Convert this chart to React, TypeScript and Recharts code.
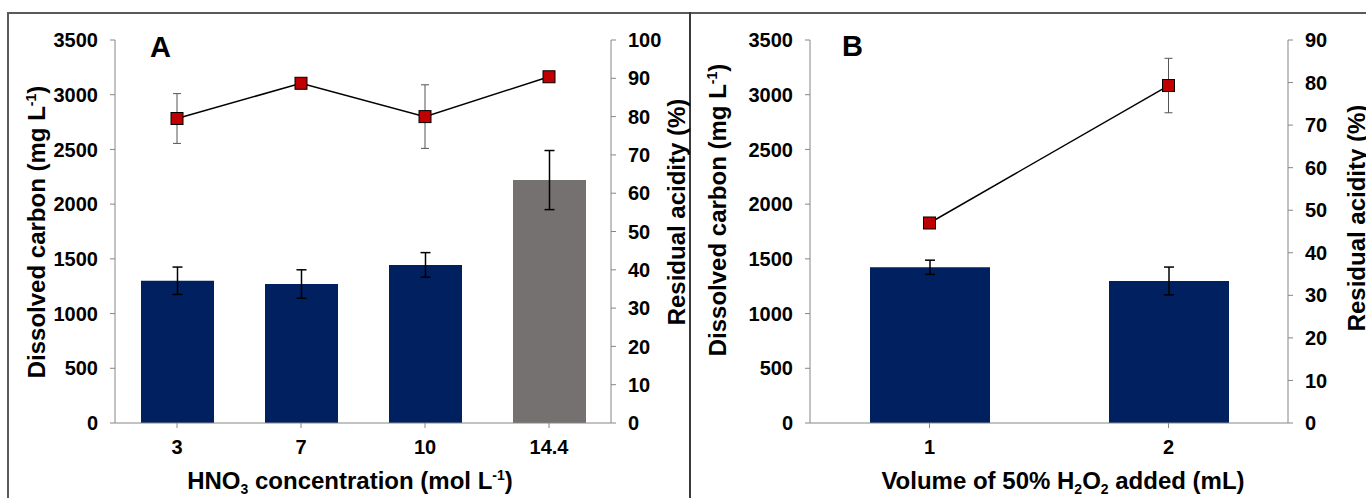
import { ComposedChart, Bar, Line, XAxis, YAxis, ErrorBar, Cell } from 'recharts';

// panel A: HNO3 concentration series
const hno3Labels = ['3', '7', '10', '14.4'];
const carbonA = [1300, 1270, 1445, 2220];
const carbonErrA = [125, 130, 112, 270];
const acidityA = [79.5, 88.7, 80, 90.4];
const acidityErrA = [6.5, 1, 8.3, 0.5];
const barColorsA = ['#002060', '#002060', '#002060', '#767171'];

// panel B: H2O2 volume series
const h2o2Labels = ['1', '2'];
const carbonB = [1423, 1298];
const carbonErrB = [65, 127];
const acidityB = [47, 79.3];
const acidityErrB = [0.3, 6.4];

const carbonTicks = [0, 500, 1000, 1500, 2000, 2500, 3000, 3500];
const acidityTicksA = [0, 10, 20, 30, 40, 50, 60, 70, 80, 90, 100];
const acidityTicksB = [0, 10, 20, 30, 40, 50, 60, 70, 80, 90];

const rowsA = hno3Labels.map((c, i) => ({
  cat: c,
  carbon: carbonA[i],
  carbonErr: carbonErrA[i],
  acidity: acidityA[i],
  acidityErr: acidityErrA[i],
}));

const rowsB = h2o2Labels.map((c, i) => ({
  cat: c,
  carbon: carbonB[i],
  carbonErr: carbonErrB[i],
  acidity: acidityB[i],
  acidityErr: acidityErrB[i],
}));

const FONT = 'Liberation Sans, Arial, sans-serif';
const AXIS = '#868686';
const tickStyle = { fill: '#000', fontSize: 20, fontWeight: 'bold', fontFamily: FONT };

const Square = (props: any) => {
  const { cx, cy, index } = props;
  if (cx == null || cy == null) return <g key={index} />;
  return (
    <rect key={index} x={cx - 6} y={cy - 6} width={12} height={12} fill="#C00000" stroke="#000" strokeWidth={1} />
  );
};

const Panel = ({ data, width, leftW, rightW, barSize, acTicks, acMax, colors }: any) => (
  <ComposedChart width={width} height={498} data={data} margin={{ top: 40, right: 0, bottom: 0, left: 0 }}>
    <XAxis
      dataKey="cat"
      height={75}
      stroke={AXIS}
      tickSize={5}
      tickMargin={12}
      tick={tickStyle}
    />
    <YAxis
      yAxisId="left"
      domain={[0, 3500]}
      ticks={carbonTicks}
      width={leftW}
      stroke={AXIS}
      tickSize={5}
      tickMargin={12}
      tick={tickStyle}
      interval={0}
    />
    <YAxis
      yAxisId="right"
      orientation="right"
      domain={[0, acMax]}
      ticks={acTicks}
      width={rightW}
      stroke={AXIS}
      tickSize={5}
      tickMargin={12}
      tick={tickStyle}
      interval={0}
    />
    <Bar yAxisId="left" dataKey="carbon" barSize={barSize} isAnimationActive={false}>
      {data.map((_: any, i: number) => (
        <Cell key={i} fill={colors ? colors[i] : '#002060'} />
      ))}
      <ErrorBar dataKey="carbonErr" width={5} stroke="#000" strokeWidth={1.5} direction="y" />
    </Bar>
    <Line
      yAxisId="right"
      dataKey="acidity"
      stroke="#000"
      strokeWidth={1.5}
      dot={Square}
      activeDot={false}
      isAnimationActive={false}
    >
      <ErrorBar dataKey="acidityErr" width={4} stroke="#555" strokeWidth={1} direction="y" />
    </Line>
  </ComposedChart>
);

const VTitle = ({ x, y, children }: any) => (
  <text transform={`translate(${x},${y}) rotate(-90)`} y={9} textAnchor="middle" fontSize={24} fontWeight="bold" fontFamily={FONT} fill="#000">
    {children}
  </text>
);

export default function App() {
  return (
    <div style={{ position: 'absolute', left: 0, top: 0, width: 1366, height: 498, background: '#fff', overflow: 'hidden' }}>
      <div style={{ position: 'absolute', left: 7, top: 12, width: 1400, height: 520, border: '2.5px solid #5a5a5a' }} />
      <div style={{ position: 'absolute', left: 689, top: 12, width: 2, height: 500, background: '#3a3a3a' }} />
      <div style={{ position: 'absolute', left: 0, top: 0 }}>
        <Panel data={rowsA} width={690} leftW={115} rightW={79} barSize={73} acTicks={acidityTicksA} acMax={100} colors={barColorsA} />
      </div>
      <div style={{ position: 'absolute', left: 690, top: 0 }}>
        <Panel data={rowsB} width={676} leftW={120} rightW={78} barSize={120} acTicks={acidityTicksB} acMax={90} />
      </div>
      <svg width={1366} height={498} style={{ position: 'absolute', left: 0, top: 0, pointerEvents: 'none' }}>
        <text x={150} y={57} fontSize={29} fontWeight="bold" fontFamily={FONT}>A</text>
        <text x={842} y={56} fontSize={29} fontWeight="bold" fontFamily={FONT}>B</text>

        <VTitle x={36} y={232}>
          Dissolved carbon (mg L<tspan dy={-9} fontSize={14}>-1</tspan><tspan dy={9}>)</tspan>
        </VTitle>
        <VTitle x={676} y={212}>Residual acidity (%)</VTitle>
        <VTitle x={717} y={210}>
          Dissolved carbon (mg L<tspan dy={-9} fontSize={14}>-1</tspan><tspan dy={9}>)</tspan>
        </VTitle>
        <VTitle x={1356} y={218}>Residual acidity (%)</VTitle>

        <text x={350} y={489} textAnchor="middle" fontSize={24} fontWeight="bold" fontFamily={FONT}>
          HNO<tspan dy={5} fontSize={14}>3</tspan><tspan dy={-5}> concentration (mol L</tspan>
          <tspan dy={-9} fontSize={14}>-1</tspan><tspan dy={9}>)</tspan>
        </text>
        <text x={1063} y={489} textAnchor="middle" fontSize={24} fontWeight="bold" fontFamily={FONT}>
          Volume of 50% H<tspan dy={5} fontSize={14}>2</tspan><tspan dy={-5}>O</tspan>
          <tspan dy={5} fontSize={14}>2</tspan><tspan dy={-5}> added (mL)</tspan>
        </text>
      </svg>
    </div>
  );
}
